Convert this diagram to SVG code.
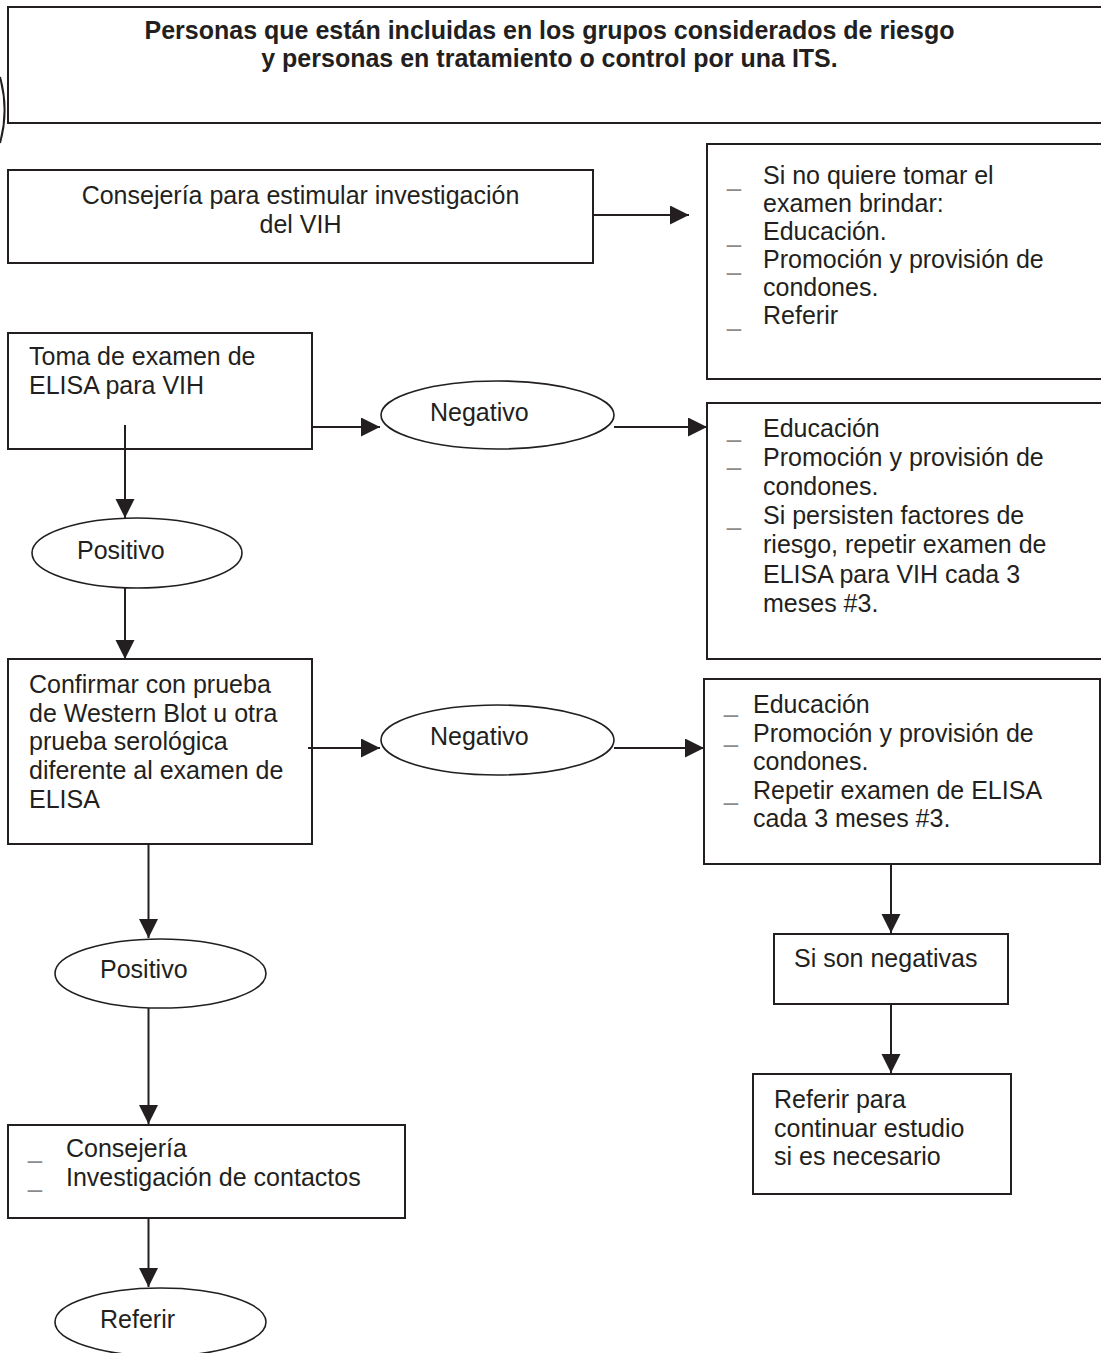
<svg xmlns="http://www.w3.org/2000/svg" width="1101" height="1353" viewBox="0 0 1101 1353">
<style>
.box{fill:#fff;stroke:#231f20;stroke-width:2}
.ell{fill:#fff;stroke:#231f20;stroke-width:1.6}
.t{font-family:"Liberation Sans",Arial,sans-serif;font-size:25px;fill:#231f20}
.b{font-weight:bold}
.d{font-family:"Liberation Sans",Arial,sans-serif;font-size:25px;fill:#8a8a8a}
.c{fill:none;stroke:#231f20;stroke-width:2}
</style>
<defs>
<marker id="ah" markerUnits="userSpaceOnUse" markerWidth="20" markerHeight="20" refX="19" refY="9.5" orient="auto">
<path d="M0,0 L19,9.5 L0,19 Z" fill="#231f20"/>
</marker>
</defs>
<rect width="1101" height="1353" fill="#fff"/>
<path d="M0,77 A123,123 0 0 1 0,143" fill="none" stroke="#231f20" stroke-width="2"/>

<g id="n-title">
<rect class="box" x="8" y="7" width="1110" height="116"/>
<text class="t b" text-anchor="middle" x="549.5" y="39">Personas que están incluidas en los grupos considerados de riesgo</text>
<text class="t b" text-anchor="middle" x="549.5" y="67">y personas en tratamiento o control por una ITS.</text>
</g>

<g id="n-consejeria">
<rect class="box" x="8" y="170" width="585" height="93"/>
<text class="t" text-anchor="middle" x="300.5" y="204">Consejería para estimular investigación</text>
<text class="t" text-anchor="middle" x="300.5" y="233">del VIH</text>
</g>

<g id="n-noquiere">
<rect class="box" x="707" y="144" width="410" height="235"/>
<text class="t" x="763" y="184">Si no quiere tomar el</text>
<text class="t" x="763" y="212">examen brindar:</text>
<text class="t" x="763" y="240">Educación.</text>
<text class="t" x="763" y="268">Promoción y provisión de</text>
<text class="t" x="763" y="296">condones.</text>
<text class="t" x="763" y="324">Referir</text>
<text class="d" x="727" y="186">_</text>
<text class="d" x="727" y="242">_</text>
<text class="d" x="727" y="270">_</text>
<text class="d" x="727" y="326">_</text>
</g>

<g id="n-elisa">
<rect class="box" x="8" y="333" width="304" height="116"/>
<text class="t" x="29" y="365">Toma de examen de</text>
<text class="t" x="29" y="394">ELISA para VIH</text>
</g>

<g id="n-negativo1">
<ellipse class="ell" cx="497.5" cy="415" rx="116.5" ry="34"/>
<text class="t" x="430" y="421">Negativo</text>
</g>

<g id="n-edu1">
<rect class="box" x="707" y="403" width="410" height="256"/>
<text class="t" x="763" y="437">Educación</text>
<text class="t" x="763" y="466">Promoción y provisión de</text>
<text class="t" x="763" y="495">condones.</text>
<text class="t" x="763" y="524">Si persisten factores de</text>
<text class="t" x="763" y="553">riesgo, repetir examen de</text>
<text class="t" x="763" y="583">ELISA para VIH cada 3</text>
<text class="t" x="763" y="612">meses #3.</text>
<text class="d" x="727" y="437">_</text>
<text class="d" x="727" y="465">_</text>
<text class="d" x="727" y="525">_</text>
</g>

<g id="n-positivo1">
<ellipse class="ell" cx="137" cy="553" rx="105" ry="35"/>
<text class="t" x="77" y="559">Positivo</text>
</g>

<g id="n-confirmar">
<rect class="box" x="8" y="659" width="304" height="185"/>
<text class="t" x="29" y="693">Confirmar con prueba</text>
<text class="t" x="29" y="722">de Western Blot u otra</text>
<text class="t" x="29" y="750">prueba serológica</text>
<text class="t" x="29" y="779">diferente al examen de</text>
<text class="t" x="29" y="808">ELISA</text>
</g>

<g id="n-negativo2">
<ellipse class="ell" cx="497.5" cy="740" rx="116.5" ry="35"/>
<text class="t" x="430" y="745">Negativo</text>
</g>

<g id="n-edu2">
<rect class="box" x="704" y="679" width="396" height="185"/>
<text class="t" x="753" y="713">Educación</text>
<text class="t" x="753" y="742">Promoción y provisión de</text>
<text class="t" x="753" y="770">condones.</text>
<text class="t" x="753" y="799">Repetir examen de ELISA</text>
<text class="t" x="753" y="827">cada 3 meses #3.</text>
<text class="d" x="724" y="712">_</text>
<text class="d" x="724" y="742">_</text>
<text class="d" x="724" y="800">_</text>
</g>

<g id="n-positivo2">
<ellipse class="ell" cx="160.5" cy="973.5" rx="105.5" ry="34.5"/>
<text class="t" x="100" y="978">Positivo</text>
</g>

<g id="n-sison">
<rect class="box" x="774" y="934" width="234" height="70"/>
<text class="t" x="794" y="967">Si son negativas</text>
</g>

<g id="n-referirpara">
<rect class="box" x="753" y="1074" width="258" height="120"/>
<text class="t" x="774" y="1108">Referir para</text>
<text class="t" x="774" y="1137">continuar estudio</text>
<text class="t" x="774" y="1165">si es necesario</text>
</g>

<g id="n-consejeria2">
<rect class="box" x="8" y="1125" width="397" height="93"/>
<text class="t" x="66" y="1157">Consejería</text>
<text class="t" x="66" y="1186">Investigación de contactos</text>
<text class="d" x="28" y="1158">_</text>
<text class="d" x="28" y="1187">_</text>
</g>

<g id="n-referir">
<ellipse class="ell" cx="160.5" cy="1322" rx="105.5" ry="34"/>
<text class="t" x="100" y="1328">Referir</text>
</g>

<g id="connectors">
<line class="c" x1="593" y1="215" x2="689" y2="215" marker-end="url(#ah)"/>
<line class="c" x1="312" y1="427" x2="380" y2="427" marker-end="url(#ah)"/>
<line class="c" x1="614" y1="427" x2="707" y2="427" marker-end="url(#ah)"/>
<line class="c" x1="125" y1="425" x2="125" y2="518" marker-end="url(#ah)"/>
<line class="c" x1="125" y1="588" x2="125" y2="659" marker-end="url(#ah)"/>
<line class="c" x1="308" y1="748" x2="380" y2="748" marker-end="url(#ah)"/>
<line class="c" x1="614" y1="748" x2="704" y2="748" marker-end="url(#ah)"/>
<line class="c" x1="148.5" y1="844" x2="148.5" y2="938" marker-end="url(#ah)"/>
<line class="c" x1="148.5" y1="1008" x2="148.5" y2="1124" marker-end="url(#ah)"/>
<line class="c" x1="148.5" y1="1218" x2="148.5" y2="1287" marker-end="url(#ah)"/>
<line class="c" x1="891" y1="864" x2="891" y2="933" marker-end="url(#ah)"/>
<line class="c" x1="891" y1="1004" x2="891" y2="1073" marker-end="url(#ah)"/>
</g>
</svg>
